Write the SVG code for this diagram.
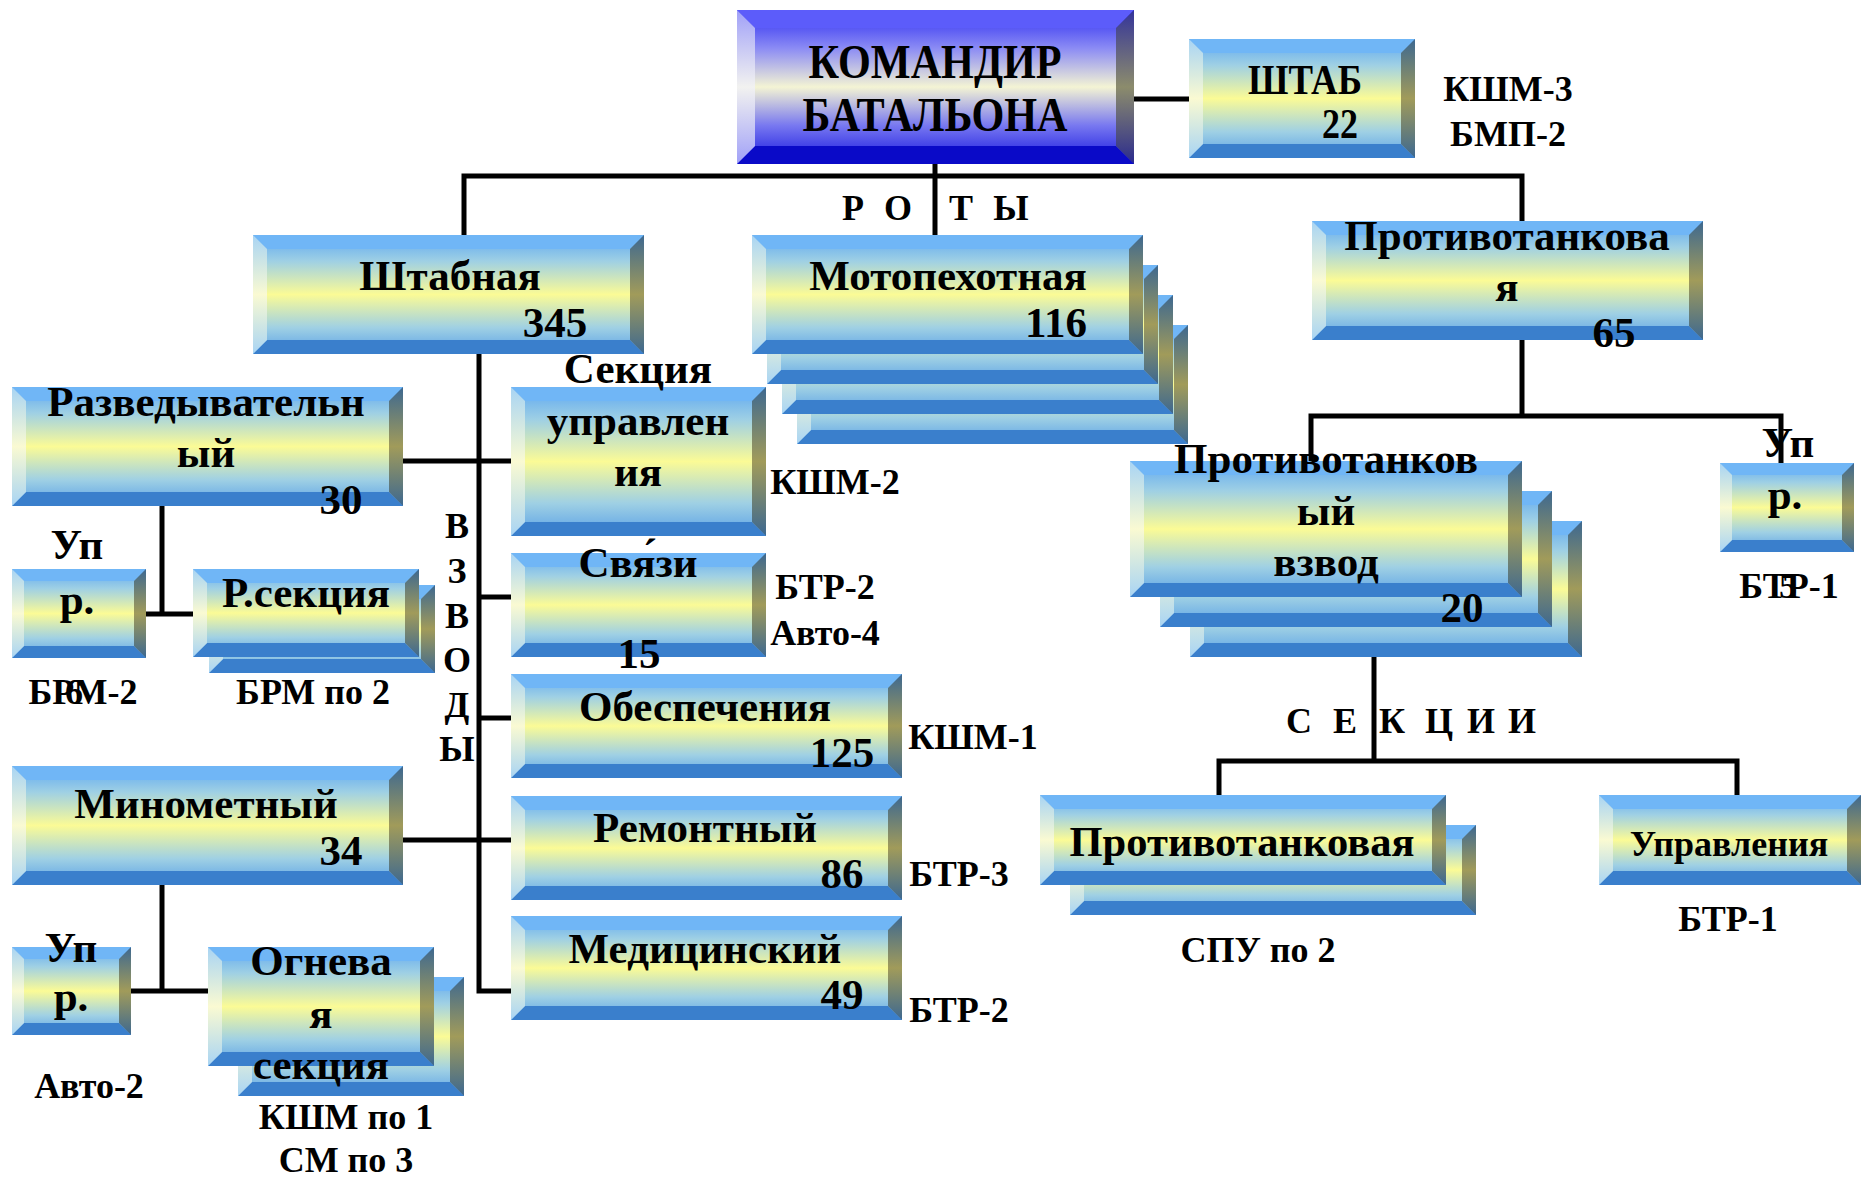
<svg xmlns="http://www.w3.org/2000/svg" xmlns:xlink="http://www.w3.org/1999/xlink" width="1865" height="1179" viewBox="0 0 1865 1179">
<style>
.f{fill:url(#gF)} .bt{fill:#70b6f6} .bb{fill:#3a7fcc} .bl{fill:url(#gL)} .br{fill:url(#gR)}
.cf{fill:url(#cF)} .cbt{fill:#5c5cfa} .cbb{fill:#0a0ac8} .cbl{fill:url(#cL)} .cbr{fill:url(#cR)}
text{font-family:"Liberation Serif","Times New Roman",serif;font-weight:bold;fill:#000;text-anchor:middle}
.tx{font-size:43px}
.an{font-size:36px}
.cm{font-size:48px}
.sp{font-size:36px}
.ln{fill:none;stroke:#000;stroke-width:5}
</style>
<defs>
<linearGradient id="gF" x1="0" y1="0" x2="0" y2="1">
<stop offset="0" stop-color="#5ba6f2"/><stop offset="0.22" stop-color="#9fd0e4"/><stop offset="0.5" stop-color="#fbfb96"/><stop offset="0.78" stop-color="#9fd0e4"/><stop offset="1" stop-color="#589fe6"/>
</linearGradient>
<linearGradient id="gL" x1="0" y1="0" x2="0" y2="1">
<stop offset="0" stop-color="#a8d4f4"/><stop offset="0.5" stop-color="#fafad2"/><stop offset="1" stop-color="#a8d4f4"/>
</linearGradient>
<linearGradient id="gR" x1="0" y1="0" x2="0" y2="1">
<stop offset="0" stop-color="#3d6890"/><stop offset="0.5" stop-color="#a19b5a"/><stop offset="1" stop-color="#3d6890"/>
</linearGradient>
<linearGradient id="cF" x1="0" y1="0" x2="0" y2="1">
<stop offset="0" stop-color="#2b2bf2"/><stop offset="0.25" stop-color="#8c8cf4"/><stop offset="0.5" stop-color="#f4f4d4"/><stop offset="0.75" stop-color="#7878f0"/><stop offset="1" stop-color="#1414e0"/>
</linearGradient>
<linearGradient id="cL" x1="0" y1="0" x2="0" y2="1">
<stop offset="0" stop-color="#a0a0f8"/><stop offset="0.5" stop-color="#f2f2f0"/><stop offset="1" stop-color="#a0a0f8"/>
</linearGradient>
<linearGradient id="cR" x1="0" y1="0" x2="0" y2="1">
<stop offset="0" stop-color="#34349a"/><stop offset="0.5" stop-color="#8c8c6c"/><stop offset="1" stop-color="#2a2a8e"/>
</linearGradient>
<g id="b391x119"><rect class="f" width="391" height="119"/><path class="bt" d="M0,0H391L377,14H14Z"/><path class="bb" d="M0,119H391L377,105H14Z"/><path class="bl" d="M0,0L14,14V105L0,119Z"/><path class="br" d="M391,0L377,14V105L391,119Z"/></g>
<g id="b391x104"><rect class="f" width="391" height="104"/><path class="bt" d="M0,0H391L377,14H14Z"/><path class="bb" d="M0,104H391L377,90H14Z"/><path class="bl" d="M0,0L14,14V90L0,104Z"/><path class="br" d="M391,0L377,14V90L391,104Z"/></g>
<g id="b392x136"><rect class="f" width="392" height="136"/><path class="bt" d="M0,0H392L378,14H14Z"/><path class="bb" d="M0,136H392L378,122H14Z"/><path class="bl" d="M0,0L14,14V122L0,136Z"/><path class="br" d="M392,0L378,14V122L392,136Z"/></g>
<g id="b226x119"><rect class="f" width="226" height="119"/><path class="bt" d="M0,0H226L212,14H14Z"/><path class="bb" d="M0,119H226L212,105H14Z"/><path class="bl" d="M0,0L14,14V105L0,119Z"/><path class="br" d="M226,0L212,14V105L226,119Z"/></g>
<g id="b226x88"><rect class="f" width="226" height="88"/><path class="bt" d="M0,0H226L212,14H14Z"/><path class="bb" d="M0,88H226L212,74H14Z"/><path class="bl" d="M0,0L14,14V74L0,88Z"/><path class="br" d="M226,0L212,14V74L226,88Z"/></g>
<g id="b255x149"><rect class="f" width="255" height="149"/><path class="bt" d="M0,0H255L241,14H14Z"/><path class="bb" d="M0,149H255L241,135H14Z"/><path class="bl" d="M0,0L14,14V135L0,149Z"/><path class="br" d="M255,0L241,14V135L255,149Z"/></g>
<g id="b255x104"><rect class="f" width="255" height="104"/><path class="bt" d="M0,0H255L241,14H14Z"/><path class="bb" d="M0,104H255L241,90H14Z"/><path class="bl" d="M0,0L14,14V90L0,104Z"/><path class="br" d="M255,0L241,14V90L255,104Z"/></g>
<g id="b406x90"><rect class="f" width="406" height="90"/><path class="bt" d="M0,0H406L392,14H14Z"/><path class="bb" d="M0,90H406L392,76H14Z"/><path class="bl" d="M0,0L14,14V76L0,90Z"/><path class="br" d="M406,0L392,14V76L406,90Z"/></g>
<g id="b262x90"><rect class="f" width="262" height="90"/><path class="bt" d="M0,0H262L248,14H14Z"/><path class="bb" d="M0,90H262L248,76H14Z"/><path class="bl" d="M0,0L14,14V76L0,90Z"/><path class="br" d="M262,0L248,14V76L262,90Z"/></g>
<g id="b134x89"><rect class="f" width="134" height="89"/><path class="bt" d="M0,0H134L122,12H12Z"/><path class="bb" d="M0,89H134L122,77H12Z"/><path class="bl" d="M0,0L12,12V77L0,89Z"/><path class="br" d="M134,0L122,12V77L134,89Z"/></g>
<g id="b119x88"><rect class="f" width="119" height="88"/><path class="bt" d="M0,0H119L107,12H12Z"/><path class="bb" d="M0,88H119L107,76H12Z"/><path class="bl" d="M0,0L12,12V76L0,88Z"/><path class="br" d="M119,0L107,12V76L119,88Z"/></g>
</defs>
<rect width="1865" height="1179" fill="#fff"/>
<g id="connectors">
<path class="ln" d="M935,150V235"/>
<path class="ln" d="M1124,99H1193"/>
<path class="ln" d="M464,235V176H1522V221"/>
<path class="ln" d="M1522,336V416"/>
<path class="ln" d="M1311,461V416H1781V464"/>
<path class="ln" d="M1374,655V761"/>
<path class="ln" d="M1219,795V761H1737V795"/>
<path class="ln" d="M479,350V991H511"/>
<path class="ln" d="M402,461H511"/>
<path class="ln" d="M479,597H511"/>
<path class="ln" d="M479,718H511"/>
<path class="ln" d="M402,840H511"/>
<path class="ln" d="M162,502V614"/>
<path class="ln" d="M146,614H193"/>
<path class="ln" d="M162,880V991"/>
<path class="ln" d="M131,991H208"/>
</g>
<g id="commander">
<rect class="cf" x="737" y="10" width="397" height="154"/>
<path class="cbt" d="M737,10H1134L1116,28H755Z"/>
<path class="cbb" d="M737,164H1134L1116,146H755Z"/>
<path class="cbl" d="M737,10L755,28V146L737,164Z"/>
<path class="cbr" d="M1134,10L1116,28V146L1134,164Z"/>
<text class="cm" x="935" y="78" textLength="253" lengthAdjust="spacingAndGlyphs">КОМАНДИР</text>
<text class="cm" x="935" y="131" textLength="265" lengthAdjust="spacingAndGlyphs">БАТАЛЬОНА</text>
</g>
<g id="shtab">
<use xlink:href="#b226x119" x="1189" y="39"/>
<text class="tx" x="1305" y="94" textLength="114" lengthAdjust="spacingAndGlyphs">ШТАБ</text>
<text class="tx" x="1340" y="138" textLength="36" lengthAdjust="spacingAndGlyphs">22</text>
<text class="an" x="1508" y="101">КШМ-3</text>
<text class="an" x="1508" y="146">БМП-2</text>
</g>
<g id="roty">
<text class="sp" x="853 898 961 1011" y="220">РОТЫ</text>
</g>
<g id="shtabnaya">
<use xlink:href="#b391x119" x="253" y="235"/>
<text class="tx" x="450" y="290">Штабная</text>
<text class="tx" x="555" y="337">345</text>
</g>
<g id="moto">
<use xlink:href="#b391x119" x="797" y="325"/>
<use xlink:href="#b391x119" x="782" y="295"/>
<use xlink:href="#b391x119" x="767" y="265"/>
<use xlink:href="#b391x119" x="752" y="235"/>
<text class="tx" x="948" y="290">Мотопехотная</text>
<text class="tx" x="1056" y="337">116</text>
</g>
<g id="company-at">
<use xlink:href="#b391x119" x="1312" y="221"/>
<text class="tx" x="1507" y="250">Противотанкова</text>
<text class="tx" x="1507" y="301">я</text>
<text class="tx" x="1614" y="347">65</text>
</g>
<g id="platoon-at">
<use xlink:href="#b392x136" x="1190" y="521"/>
<use xlink:href="#b392x136" x="1160" y="491"/>
<use xlink:href="#b392x136" x="1130" y="461"/>
<text class="tx" x="1326" y="473">Противотанков</text>
<text class="tx" x="1326" y="525">ый</text>
<text class="tx" x="1326" y="576">взвод</text>
<text class="tx" x="1462" y="622">20</text>
</g>
<g id="sekcii">
<text class="sp" x="1299 1345 1392 1439 1481 1522" y="733">СЕКЦИИ</text>
</g>
<g id="upr-right">
<use xlink:href="#b134x89" x="1720" y="463"/>
<text class="tx" x="1788" y="457">Уп</text>
<text class="tx" x="1785" y="509">р.</text>
<text class="an" x="1789" y="598">БТР-1</text>
<text class="an" x="1788" y="598">5</text>
</g>
<g id="section-at">
<use xlink:href="#b406x90" x="1070" y="825"/>
<use xlink:href="#b406x90" x="1040" y="795"/>
<text class="tx" x="1242" y="856" textLength="345" lengthAdjust="spacingAndGlyphs">Противотанковая</text>
<text class="an" x="1258" y="962">СПУ по 2</text>
</g>
<g id="section-upr">
<use xlink:href="#b262x90" x="1599" y="795"/>
<text class="an" x="1729" y="856">Управления</text>
<text class="an" x="1728" y="931">БТР-1</text>
</g>
<g id="razved">
<use xlink:href="#b391x119" x="12" y="387"/>
<text class="tx" x="206" y="416">Разведывательн</text>
<text class="tx" x="206" y="467">ый</text>
<text class="tx" x="341" y="514">30</text>
</g>
<g id="upr-tl">
<use xlink:href="#b134x89" x="12" y="569"/>
<text class="tx" x="77" y="559">Уп</text>
<text class="tx" x="77" y="614">р.</text>
<text class="an" x="83" y="704">БРМ-2</text>
<text class="an" x="74" y="704">6</text>
</g>
<g id="r-sekciya">
<use xlink:href="#b226x88" x="209" y="585"/>
<use xlink:href="#b226x88" x="193" y="569"/>
<text class="tx" x="306" y="607">Р.секция</text>
<text class="an" x="313" y="704">БРМ по 2</text>
</g>
<g id="sek-upr">
<use xlink:href="#b255x149" x="511" y="387"/>
<text class="tx" x="638" y="383">Секция</text>
<text class="tx" x="638" y="435">управлен</text>
<text class="tx" x="638" y="486">ия</text>
<text class="an" x="835" y="494">КШМ-2</text>
</g>
<g id="svyazi">
<use xlink:href="#b255x104" x="511" y="553"/>
<text class="tx" x="638" y="577">Свя́зи</text>
<text class="tx" x="639" y="668">15</text>
<text class="an" x="825" y="599">БТР-2</text>
<text class="an" x="825" y="645">Авто-4</text>
</g>
<g id="obesp">
<use xlink:href="#b391x104" x="511" y="674"/>
<text class="tx" x="705" y="721">Обеспечения</text>
<text class="tx" x="842" y="767">125</text>
<text class="an" x="973" y="749">КШМ-1</text>
</g>
<g id="remont">
<use xlink:href="#b391x104" x="511" y="796"/>
<text class="tx" x="705" y="842">Ремонтный</text>
<text class="tx" x="842" y="888">86</text>
<text class="an" x="959" y="886">БТР-3</text>
</g>
<g id="medic">
<use xlink:href="#b391x104" x="511" y="916"/>
<text class="tx" x="705" y="963">Медицинский</text>
<text class="tx" x="842" y="1009">49</text>
<text class="an" x="959" y="1022">БТР-2</text>
</g>
<g id="vzvody">
<text class="sp" x="457 457 457 457 457 457" y="538 583 628 672 717 761">ВЗВОДЫ</text>
</g>
<g id="minomet">
<use xlink:href="#b391x119" x="12" y="766"/>
<text class="tx" x="206" y="818">Минометный</text>
<text class="tx" x="341" y="865">34</text>
</g>
<g id="upr-bl">
<use xlink:href="#b119x88" x="12" y="947"/>
<text class="tx" x="71" y="962">Уп</text>
<text class="tx" x="71" y="1011">р.</text>
<text class="an" x="89" y="1098">Авто-2</text>
</g>
<g id="ognev">
<use xlink:href="#b226x119" x="238" y="977"/>
<use xlink:href="#b226x119" x="208" y="947"/>
<text class="tx" x="321" y="975">Огнева</text>
<text class="tx" x="321" y="1028">я</text>
<text class="tx" x="321" y="1079">секция</text>
<text class="an" x="346" y="1129">КШМ по 1</text>
<text class="an" x="346" y="1172">СМ по 3</text>
</g>
</svg>
